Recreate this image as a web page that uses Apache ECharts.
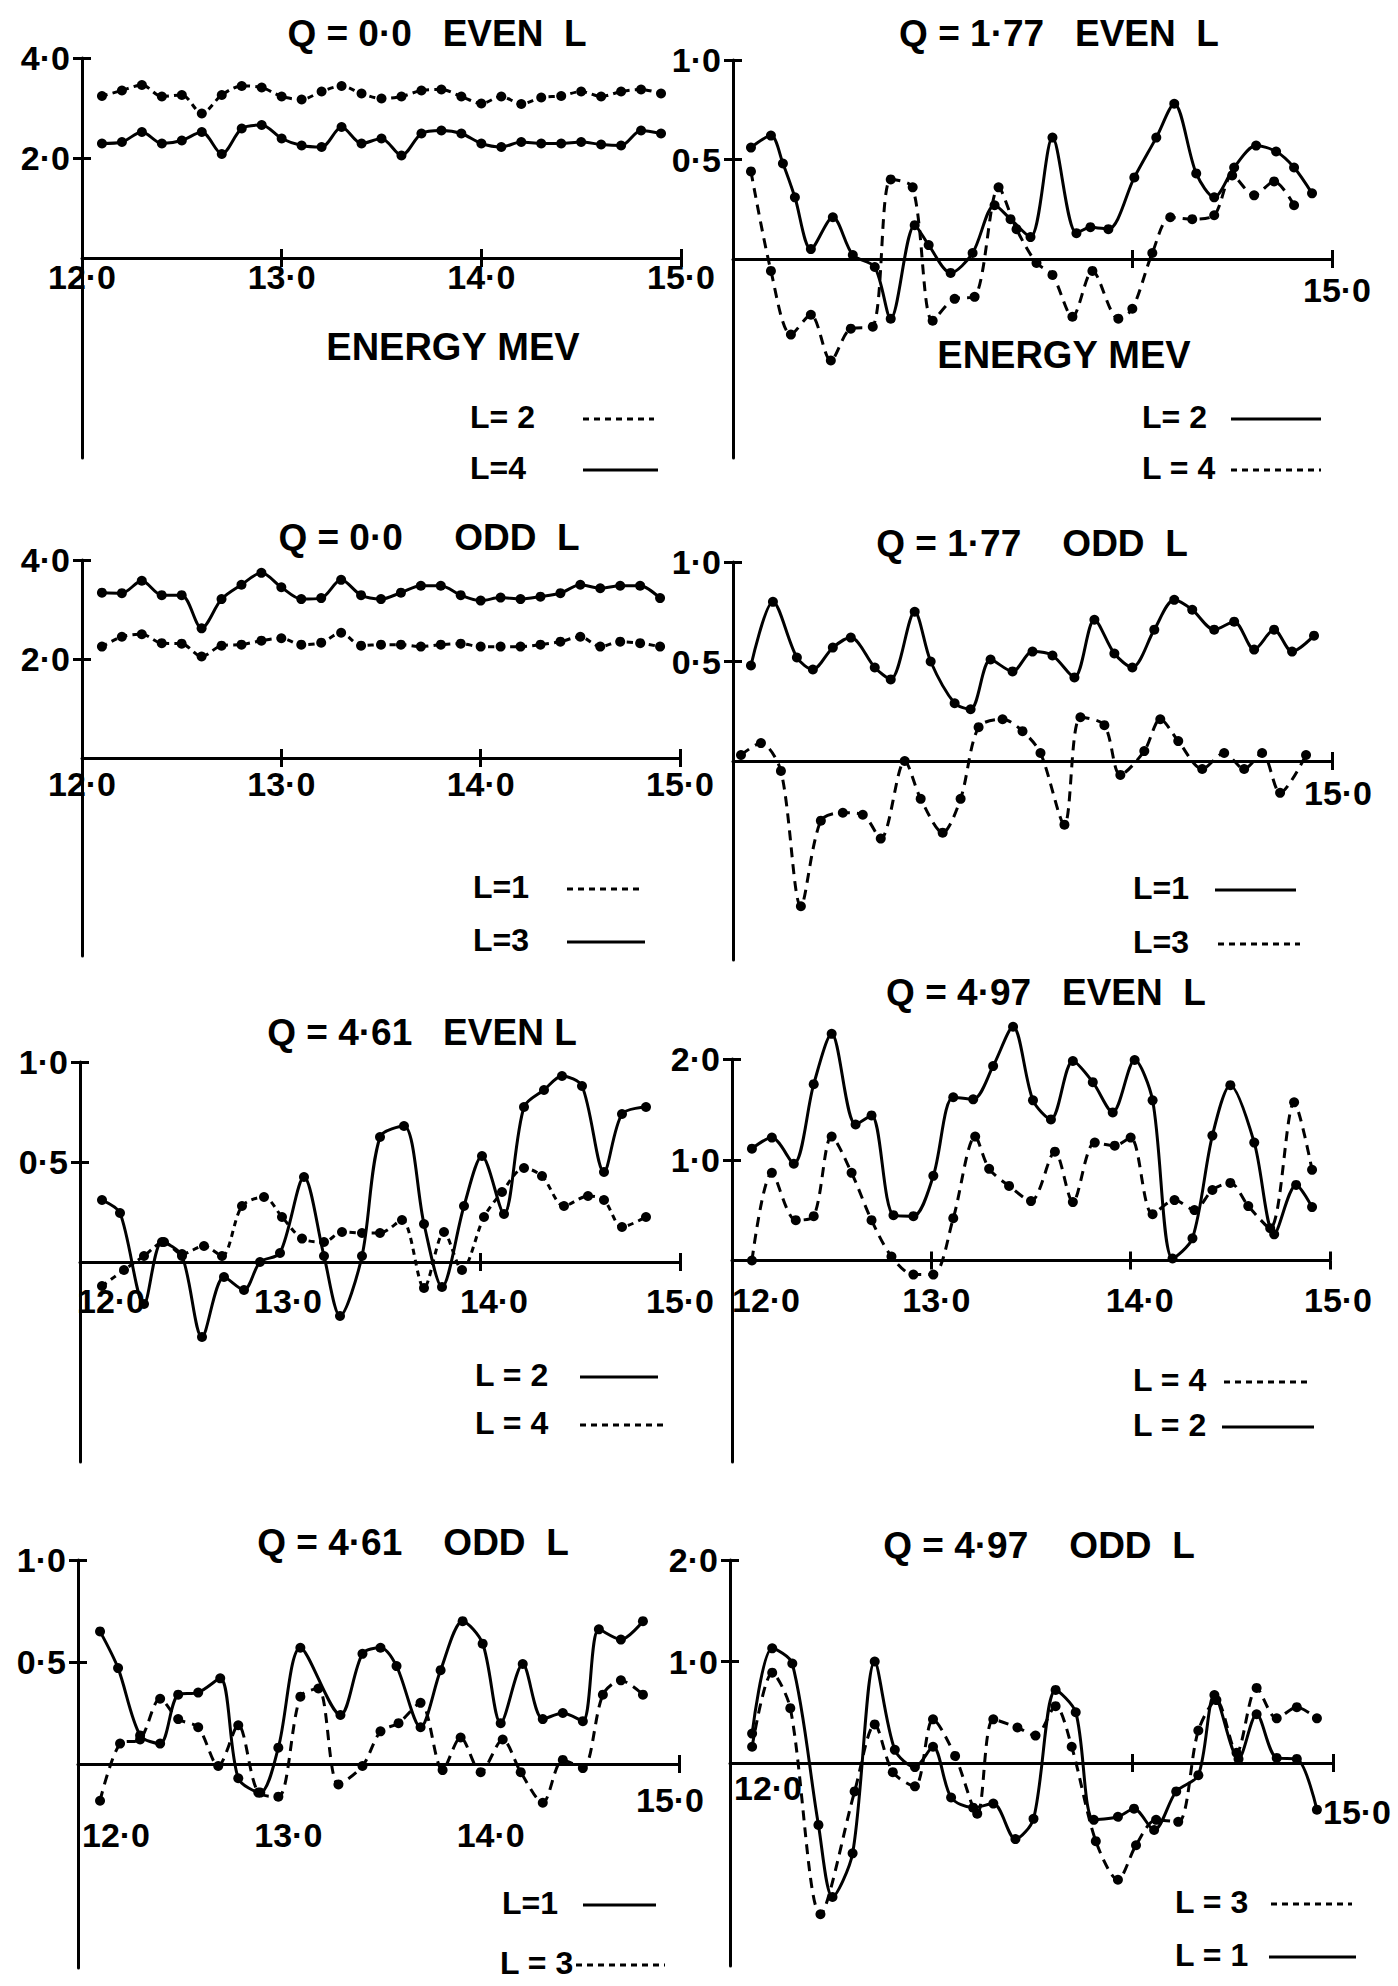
<!DOCTYPE html>
<html>
<head>
<meta charset="utf-8">
<script src="https://cdn.jsdelivr.net/npm/echarts@6/dist/echarts.min.js"></script>
<style>
html, body { margin: 0; background: #fff; }
#chart { width: 1398px; height: 1986px; }
</style>
</head>
<body>
<div id="chart"></div>
<script>
// energies (MeV) used by the two Q = 0.0 panels
var energy29 = [12.1, 12.2, 12.3, 12.4, 12.5, 12.6, 12.7, 12.8, 12.9, 13.0, 13.1, 13.2, 13.3, 13.4, 13.5,
                13.6, 13.7, 13.8, 13.9, 14.0, 14.1, 14.2, 14.3, 14.4, 14.5, 14.6, 14.7, 14.8, 14.9];

// Q = 0.0 even L
var q00EvenL2 = [3.24, 3.35, 3.46, 3.23, 3.26, 2.89, 3.26, 3.44, 3.41, 3.23, 3.17, 3.33, 3.44, 3.29, 3.19,
                 3.23, 3.35, 3.37, 3.23, 3.09, 3.23, 3.08, 3.21, 3.24, 3.33, 3.23, 3.33, 3.37, 3.29];
var q00EvenL4 = [2.29, 2.32, 2.52, 2.29, 2.35, 2.52, 2.08, 2.59, 2.66, 2.39, 2.25, 2.22, 2.62, 2.29, 2.39,
                 2.05, 2.49, 2.55, 2.49, 2.29, 2.22, 2.32, 2.29, 2.29, 2.32, 2.27, 2.25, 2.55, 2.49];

// Q = 0.0 odd L
var q00OddL1 = [2.25, 2.45, 2.50, 2.32, 2.31, 2.05, 2.27, 2.29, 2.37, 2.42, 2.29, 2.33, 2.53, 2.27, 2.29,
                2.29, 2.25, 2.29, 2.31, 2.25, 2.25, 2.25, 2.29, 2.35, 2.45, 2.25, 2.35, 2.32, 2.25];
var q00OddL3 = [3.34, 3.33, 3.58, 3.29, 3.29, 2.62, 3.21, 3.50, 3.74, 3.45, 3.21, 3.23, 3.60, 3.29, 3.21,
                3.34, 3.48, 3.48, 3.29, 3.18, 3.24, 3.21, 3.26, 3.33, 3.50, 3.43, 3.48, 3.48, 3.23];

// Q = 1.77 even L  [energy, value]
var q177EvenL2 = [[12.09, 0.56], [12.19, 0.62], [12.25, 0.48], [12.31, 0.31], [12.39, 0.05], [12.50, 0.21],
                  [12.60, 0.02], [12.71, -0.04], [12.79, -0.30], [12.91, 0.17], [12.98, 0.07], [13.09, -0.07],
                  [13.20, 0.03], [13.31, 0.27], [13.39, 0.20], [13.49, 0.11], [13.60, 0.61], [13.72, 0.13],
                  [13.79, 0.16], [13.88, 0.15], [14.01, 0.41], [14.12, 0.61], [14.21, 0.78], [14.32, 0.43],
                  [14.41, 0.31], [14.51, 0.46], [14.62, 0.57], [14.72, 0.54], [14.81, 0.46], [14.90, 0.33]];
var q177EvenL4 = [[12.09, 0.44], [12.19, -0.06], [12.29, -0.38], [12.39, -0.28], [12.49, -0.51], [12.59, -0.35],
                  [12.70, -0.34], [12.79, 0.40], [12.90, 0.36], [13.00, -0.31], [13.11, -0.20], [13.21, -0.19],
                  [13.33, 0.36], [13.42, 0.15], [13.52, -0.02], [13.60, -0.08], [13.70, -0.29], [13.80, -0.06],
                  [13.93, -0.30], [14.00, -0.25], [14.10, 0.03], [14.19, 0.21], [14.30, 0.20], [14.41, 0.22],
                  [14.50, 0.42], [14.61, 0.32], [14.71, 0.39], [14.81, 0.27]];

// Q = 1.77 odd L
var q177OddL1 = [[12.09, 0.48], [12.20, 0.80], [12.32, 0.52], [12.40, 0.46], [12.50, 0.57], [12.59, 0.62],
                 [12.71, 0.47], [12.79, 0.41], [12.91, 0.75], [12.99, 0.50], [13.11, 0.29], [13.19, 0.26],
                 [13.29, 0.51], [13.40, 0.45], [13.50, 0.55], [13.60, 0.53], [13.71, 0.42], [13.81, 0.71],
                 [13.91, 0.54], [14.00, 0.47], [14.11, 0.66], [14.21, 0.81], [14.30, 0.76], [14.41, 0.66],
                 [14.51, 0.70], [14.61, 0.56], [14.71, 0.66], [14.80, 0.55], [14.91, 0.63]];
var q177OddL3 = [[12.04, 0.03], [12.14, 0.09], [12.24, -0.05], [12.34, -0.73], [12.44, -0.30], [12.55, -0.26],
                 [12.65, -0.27], [12.74, -0.39], [12.86, 0.00], [12.94, -0.19], [13.05, -0.36], [13.14, -0.19],
                 [13.23, 0.17], [13.35, 0.21], [13.45, 0.15], [13.54, 0.04], [13.66, -0.32], [13.74, 0.22],
                 [13.86, 0.18], [13.94, -0.07], [14.06, 0.05], [14.14, 0.21], [14.23, 0.10], [14.35, -0.04],
                 [14.46, 0.04], [14.56, -0.04], [14.65, 0.04], [14.74, -0.16], [14.87, 0.03]];

// Q = 4.61 even L
var q461EvenL2 = [[12.11, 0.31], [12.20, 0.245], [12.32, -0.21], [12.41, 0.10], [12.51, 0.03], [12.61, -0.375],
                  [12.72, -0.075], [12.82, -0.14], [12.90, 0.0], [13.00, 0.045], [13.12, 0.425], [13.22, 0.03],
                  [13.30, -0.27], [13.41, 0.03], [13.50, 0.625], [13.62, 0.68], [13.72, 0.19], [13.81, -0.125],
                  [13.92, 0.28], [14.01, 0.53], [14.12, 0.24], [14.22, 0.775], [14.32, 0.86], [14.41, 0.93],
                  [14.51, 0.88], [14.62, 0.45], [14.71, 0.74], [14.83, 0.775]];
var q461EvenL4 = [[12.11, -0.12], [12.22, -0.04], [12.32, 0.03], [12.42, 0.10], [12.51, 0.04], [12.62, 0.08],
                  [12.71, 0.03], [12.81, 0.28], [12.92, 0.325], [13.01, 0.225], [13.11, 0.117], [13.22, 0.10],
                  [13.31, 0.15], [13.41, 0.145], [13.50, 0.145], [13.61, 0.21], [13.72, -0.13], [13.82, 0.15],
                  [13.91, -0.04], [14.02, 0.225], [14.11, 0.35], [14.22, 0.47], [14.31, 0.43], [14.42, 0.28],
                  [14.54, 0.33], [14.62, 0.31], [14.71, 0.175], [14.83, 0.225]];

// Q = 4.97 even L
var q497EvenL2 = [[12.10, 1.11], [12.20, 1.22], [12.31, 0.96], [12.41, 1.75], [12.50, 2.25], [12.62, 1.35],
                  [12.70, 1.44], [12.81, 0.45], [12.91, 0.44], [13.01, 0.84], [13.11, 1.62], [13.21, 1.60],
                  [13.31, 1.93], [13.41, 2.32], [13.51, 1.59], [13.60, 1.40], [13.71, 1.98], [13.81, 1.77],
                  [13.91, 1.47], [14.02, 1.99], [14.11, 1.59], [14.21, 0.02], [14.31, 0.22], [14.41, 1.24],
                  [14.50, 1.74], [14.62, 1.17], [14.72, 0.26], [14.83, 0.75], [14.91, 0.53]];
var q497EvenL4 = [[12.10, 0.0], [12.20, 0.87], [12.32, 0.40], [12.41, 0.44], [12.50, 1.23], [12.60, 0.87],
                  [12.70, 0.40], [12.80, 0.04], [12.91, -0.14], [13.01, -0.14], [13.11, 0.42], [13.22, 1.23],
                  [13.29, 0.91], [13.39, 0.74], [13.50, 0.59], [13.62, 1.08], [13.71, 0.58], [13.82, 1.17],
                  [13.92, 1.14], [14.00, 1.22], [14.11, 0.46], [14.22, 0.60], [14.32, 0.50], [14.41, 0.70],
                  [14.50, 0.77], [14.59, 0.54], [14.70, 0.32], [14.82, 1.57], [14.91, 0.90]];

// Q = 4.61 odd L
var q461OddL1 = [[12.11, 0.65], [12.20, 0.47], [12.31, 0.14], [12.41, 0.10], [12.50, 0.34], [12.60, 0.35],
                 [12.71, 0.42], [12.80, -0.07], [12.91, -0.14], [13.00, 0.08], [13.11, 0.57], [13.31, 0.24],
                 [13.42, 0.54], [13.51, 0.57], [13.59, 0.48], [13.71, 0.18], [13.81, 0.46], [13.92, 0.70],
                 [14.02, 0.59], [14.11, 0.20], [14.22, 0.49], [14.32, 0.22], [14.42, 0.25], [14.52, 0.21],
                 [14.60, 0.66], [14.71, 0.61], [14.82, 0.70]];
var q461OddL3 = [[12.11, -0.18], [12.21, 0.10], [12.31, 0.12], [12.41, 0.32], [12.50, 0.22], [12.60, 0.18],
                 [12.70, -0.01], [12.80, 0.19], [12.90, -0.14], [13.00, -0.16], [13.11, 0.33], [13.20, 0.37],
                 [13.30, -0.10], [13.42, -0.01], [13.51, 0.16], [13.60, 0.20], [13.71, 0.30], [13.82, -0.03],
                 [13.91, 0.13], [14.01, -0.04], [14.12, 0.12], [14.21, -0.04], [14.32, -0.19], [14.42, 0.02],
                 [14.52, -0.02], [14.62, 0.34], [14.71, 0.41], [14.82, 0.34]];

// Q = 4.97 odd L
var q497OddL1 = [[12.11, 0.29], [12.21, 1.13], [12.31, 0.98], [12.44, -0.61], [12.51, -1.32], [12.61, -0.89],
                 [12.72, 1.00], [12.82, 0.13], [12.92, -0.04], [13.01, 0.16], [13.10, -0.34], [13.21, -0.44],
                 [13.31, -0.40], [13.42, -0.75], [13.51, -0.55], [13.62, 0.72], [13.72, 0.50], [13.81, -0.56],
                 [13.93, -0.53], [14.01, -0.45], [14.11, -0.66], [14.22, -0.28], [14.33, -0.12], [14.41, 0.67],
                 [14.53, 0.04], [14.62, 0.48], [14.72, 0.05], [14.82, 0.04], [14.92, -0.46]];
var q497OddL3 = [[12.11, 0.16], [12.21, 0.89], [12.30, 0.54], [12.45, -1.49], [12.62, -0.28], [12.72, 0.38],
                 [12.81, -0.09], [12.92, -0.23], [13.01, 0.43], [13.12, 0.07], [13.23, -0.50], [13.31, 0.43],
                 [13.43, 0.35], [13.52, 0.27], [13.62, 0.56], [13.70, 0.16], [13.82, -0.77], [13.93, -1.15],
                 [14.02, -0.81], [14.12, -0.56], [14.23, -0.58], [14.33, 0.32], [14.42, 0.62], [14.52, 0.10],
                 [14.62, 0.74], [14.72, 0.44], [14.82, 0.55], [14.92, 0.44]];

function onGrid(values) {
    return energy29.map(function (e, i) { return [e, values[i]]; });
}

var FONT = '"Liberation Sans", Arial, sans-serif';
var SHORT_DASH = [6, 5];
var LONG_DASH = [10, 7];
var SP = '\u00a0';

// nudge: hand-lettered tick labels that sit off their tick, {value: [dx, dy]}
var panels = [
    { title: 'Q = 0·0' + SP + SP + SP + 'EVEN' + SP + SP + 'L', tx: 437, ty: 33,
      left: 82, top: 58, width: 599, height: 400, min: -4, max: 4,
      yTicks: [2, 4], xTicks: [13, 14, 15], xLabels: [12, 13, 14, 15], xMargin: 2, nudge: {},
      series: [{ name: 'L=2', data: onGrid(q00EvenL2), dash: SHORT_DASH },
               { name: 'L=4', data: onGrid(q00EvenL4), dash: null }],
      legend: [{ text: 'L=' + SP + '2', x: 470, y: 417, x1: 583, x2: 654, dash: SHORT_DASH },
               { text: 'L=4', x: 470, y: 468, x1: 583, x2: 658, dash: null }],
      energy: [453, 347] },
    { title: 'Q = 1·77' + SP + SP + SP + 'EVEN' + SP + SP + 'L', tx: 1059, ty: 33,
      left: 733, top: 60, width: 599, height: 398, min: -1, max: 1,
      yTicks: [0.5, 1], xTicks: [14, 15], xLabels: [15], xMargin: 14, nudge: { 15: [5, 0] },
      series: [{ name: 'L=2', data: q177EvenL2, dash: null },
               { name: 'L=4', data: q177EvenL4, dash: LONG_DASH }],
      legend: [{ text: 'L=' + SP + '2', x: 1142, y: 417, x1: 1231, x2: 1321, dash: null },
               { text: 'L = 4', x: 1142, y: 468, x1: 1231, x2: 1321, dash: SHORT_DASH }],
      energy: [1064, 355] },
    { title: 'Q = 0·0' + SP + SP + SP + SP + SP + 'ODD' + SP + SP + 'L', tx: 429, ty: 537,
      left: 82, top: 560, width: 598, height: 396, min: -4, max: 4,
      yTicks: [2, 4], xTicks: [13, 14, 15], xLabels: [12, 13, 14, 15], xMargin: 9, nudge: {},
      series: [{ name: 'L=1', data: onGrid(q00OddL1), dash: SHORT_DASH },
               { name: 'L=3', data: onGrid(q00OddL3), dash: null }],
      legend: [{ text: 'L=1', x: 473, y: 887, x1: 567, x2: 643, dash: SHORT_DASH },
               { text: 'L=3', x: 473, y: 940, x1: 567, x2: 645, dash: null }] },
    { title: 'Q = 1·77' + SP + SP + SP + SP + 'ODD' + SP + SP + 'L', tx: 1032, ty: 543,
      left: 733, top: 562, width: 599, height: 398, min: -1, max: 1,
      yTicks: [0.5, 1], xTicks: [15], xLabels: [15], xMargin: 15, nudge: { 15: [6, 0] },
      series: [{ name: 'L=1', data: q177OddL1, dash: null },
               { name: 'L=3', data: q177OddL3, dash: LONG_DASH }],
      legend: [{ text: 'L=1', x: 1133, y: 888, x1: 1215, x2: 1296, dash: null },
               { text: 'L=3', x: 1133, y: 942, x1: 1218, x2: 1300, dash: SHORT_DASH }] },
    { title: 'Q = 4·61' + SP + SP + SP + 'EVEN' + SP + 'L', tx: 422, ty: 1032,
      left: 80, top: 1062, width: 600, height: 400, min: -1, max: 1,
      yTicks: [0.5, 1], xTicks: [14, 15], xLabels: [12, 13, 14, 15], xMargin: 22,
      nudge: { 12: [31, 0], 13: [8, 0], 14: [14, 0] },
      series: [{ name: 'L=2', data: q461EvenL2, dash: null },
               { name: 'L=4', data: q461EvenL4, dash: SHORT_DASH }],
      legend: [{ text: 'L = 2', x: 475, y: 1375, x1: 580, x2: 658, dash: null },
               { text: 'L = 4', x: 475, y: 1423, x1: 580, x2: 665, dash: SHORT_DASH }] },
    { title: 'Q = 4·97' + SP + SP + SP + 'EVEN' + SP + SP + 'L', tx: 1046, ty: 992,
      left: 732, top: 1059, width: 598, height: 403, min: -2, max: 2,
      yTicks: [1, 2], xTicks: [13, 14, 15], xLabels: [12, 13, 14, 15], xMargin: 22,
      nudge: { 12: [34, 0], 13: [5, 0], 14: [9, 0], 15: [8, 0] },
      series: [{ name: 'L=4', data: q497EvenL4, dash: LONG_DASH },
               { name: 'L=2', data: q497EvenL2, dash: null }],
      legend: [{ text: 'L = 4', x: 1133, y: 1380, x1: 1224, x2: 1312, dash: SHORT_DASH },
               { text: 'L = 2', x: 1133, y: 1425, x1: 1222, x2: 1314, dash: null }] },
    { title: 'Q = 4·61' + SP + SP + SP + SP + 'ODD' + SP + SP + 'L', tx: 413, ty: 1542,
      left: 78, top: 1560, width: 601, height: 408, min: -1, max: 1,
      yTicks: [0.5, 1], xTicks: [15], xLabels: [12, 13, 14, 15], xMargin: 19,
      nudge: { 12: [38, 35], 13: [10, 35], 14: [12, 35], 15: [-9, 0] },
      series: [{ name: 'L=1', data: q461OddL1, dash: null },
               { name: 'L=3', data: q461OddL3, dash: LONG_DASH }],
      legend: [{ text: 'L=1', x: 502, y: 1903, x1: 583, x2: 656, dash: null },
               { text: 'L = 3', x: 500, y: 1963, x1: 576, x2: 665, dash: SHORT_DASH }] },
    { title: 'Q = 4·97' + SP + SP + SP + SP + 'ODD' + SP + SP + 'L', tx: 1039, ty: 1545,
      left: 730, top: 1560, width: 603, height: 406, min: -2, max: 2,
      yTicks: [1, 2], xTicks: [14, 15], xLabels: [12, 15], xMargin: 8,
      nudge: { 12: [38, 0], 15: [24, 24] },
      series: [{ name: 'L=3', data: q497OddL3, dash: LONG_DASH },
               { name: 'L=1', data: q497OddL1, dash: null }],
      legend: [{ text: 'L = 3', x: 1175, y: 1902, x1: 1271, x2: 1352, dash: SHORT_DASH },
               { text: 'L = 1', x: 1175, y: 1955, x1: 1269, x2: 1356, dash: null }] }
];

function fmt(v) {
    return v.toFixed(1).replace('.', '\u00b7');
}

var black = { color: '#000', width: 3 };
var labelFont = { color: '#000', fontFamily: FONT, fontWeight: 'bold', fontSize: 34 };
var grid = [], xAxis = [], yAxis = [], series = [], graphic = [];

function addText(text, x, y, size, align) {
    graphic.push({
        type: 'text', silent: true,
        style: { text: text, x: x, y: y, fill: '#000', font: 'bold ' + size + 'px ' + FONT,
                 textAlign: align, textVerticalAlign: 'middle', align: align, verticalAlign: 'middle' }
    });
}

function xLabelFor(p) {
    var rich = {};
    Object.keys(p.nudge).forEach(function (v) {
        var dx = p.nudge[v][0], dy = p.nudge[v][1];
        // padding on one side moves a centred label by half of it
        rich['v' + v] = Object.assign({
            padding: [dy, dx < 0 ? -2 * dx : 0, 0, dx > 0 ? 2 * dx : 0]
        }, labelFont);
    });
    return Object.assign({
        customValues: p.xLabels, margin: p.xMargin, rich: rich,
        formatter: function (v) {
            return p.nudge[v] ? '{v' + v + '|' + fmt(v) + '}' : fmt(v);
        }
    }, labelFont);
}

panels.forEach(function (p, i) {
    grid.push({ left: p.left, top: p.top, width: p.width, height: p.height, outerBoundsMode: 'none' });

    // every y range is symmetric, so the zero line sits half way up the grid
    var zeroOffset = -p.height / 2;

    // x axis on the zero line, ticks below; twin axis gives the ticks above
    xAxis.push({
        gridIndex: i, type: 'value', min: 12, max: 15, position: 'bottom', offset: zeroOffset,
        axisLine: { show: true, onZero: false, lineStyle: black },
        axisTick: { show: true, customValues: p.xTicks, length: 9, lineStyle: black },
        axisLabel: xLabelFor(p),
        splitLine: { show: false }
    });
    xAxis.push({
        gridIndex: i, type: 'value', min: 12, max: 15, position: 'bottom', offset: zeroOffset,
        axisLine: { show: false, onZero: false },
        axisTick: { show: true, inside: true, customValues: p.xTicks, length: 9, lineStyle: black },
        axisLabel: { show: false },
        splitLine: { show: false }
    });
    yAxis.push({
        gridIndex: i, type: 'value', min: p.min, max: p.max, position: 'left',
        axisLine: { show: true, onZero: false, lineStyle: black },
        axisTick: { show: true, customValues: p.yTicks, length: 9, lineStyle: black },
        axisLabel: Object.assign({ customValues: p.yTicks, formatter: fmt, margin: 12 }, labelFont),
        splitLine: { show: false }
    });
    yAxis.push({
        gridIndex: i, type: 'value', min: p.min, max: p.max, position: 'left',
        axisLine: { show: false, onZero: false },
        axisTick: { show: true, inside: true, customValues: p.yTicks, length: 9, lineStyle: black },
        axisLabel: { show: false },
        splitLine: { show: false }
    });

    p.series.forEach(function (s) {
        series.push({
            type: 'line', name: s.name, xAxisIndex: 2 * i, yAxisIndex: 2 * i,
            data: s.data, smooth: 0.3, clip: false, silent: true,
            symbol: 'circle', symbolSize: 10, showSymbol: true,
            itemStyle: { color: '#000' },
            lineStyle: { color: '#000', width: 3, type: s.dash || 'solid' }
        });
    });

    addText(p.title, p.tx, p.ty, 37, 'center');
    if (p.energy) addText('ENERGY' + SP + 'MEV', p.energy[0], p.energy[1], 38, 'center');
    p.legend.forEach(function (l) {
        addText(l.text, l.x, l.y, 32, 'left');
        graphic.push({
            type: 'line', silent: true,
            shape: { x1: l.x1, y1: l.y + 2, x2: l.x2, y2: l.y + 2 },
            style: { stroke: '#000', lineWidth: 3, lineDash: l.dash || null }
        });
    });
});

var chart = echarts.init(document.getElementById('chart'), null, { renderer: 'svg' });
chart.setOption({
    animation: false,
    backgroundColor: '#fff',
    grid: grid,
    xAxis: xAxis,
    yAxis: yAxis,
    series: series,
    graphic: graphic
});
</script>
</body>
</html>
